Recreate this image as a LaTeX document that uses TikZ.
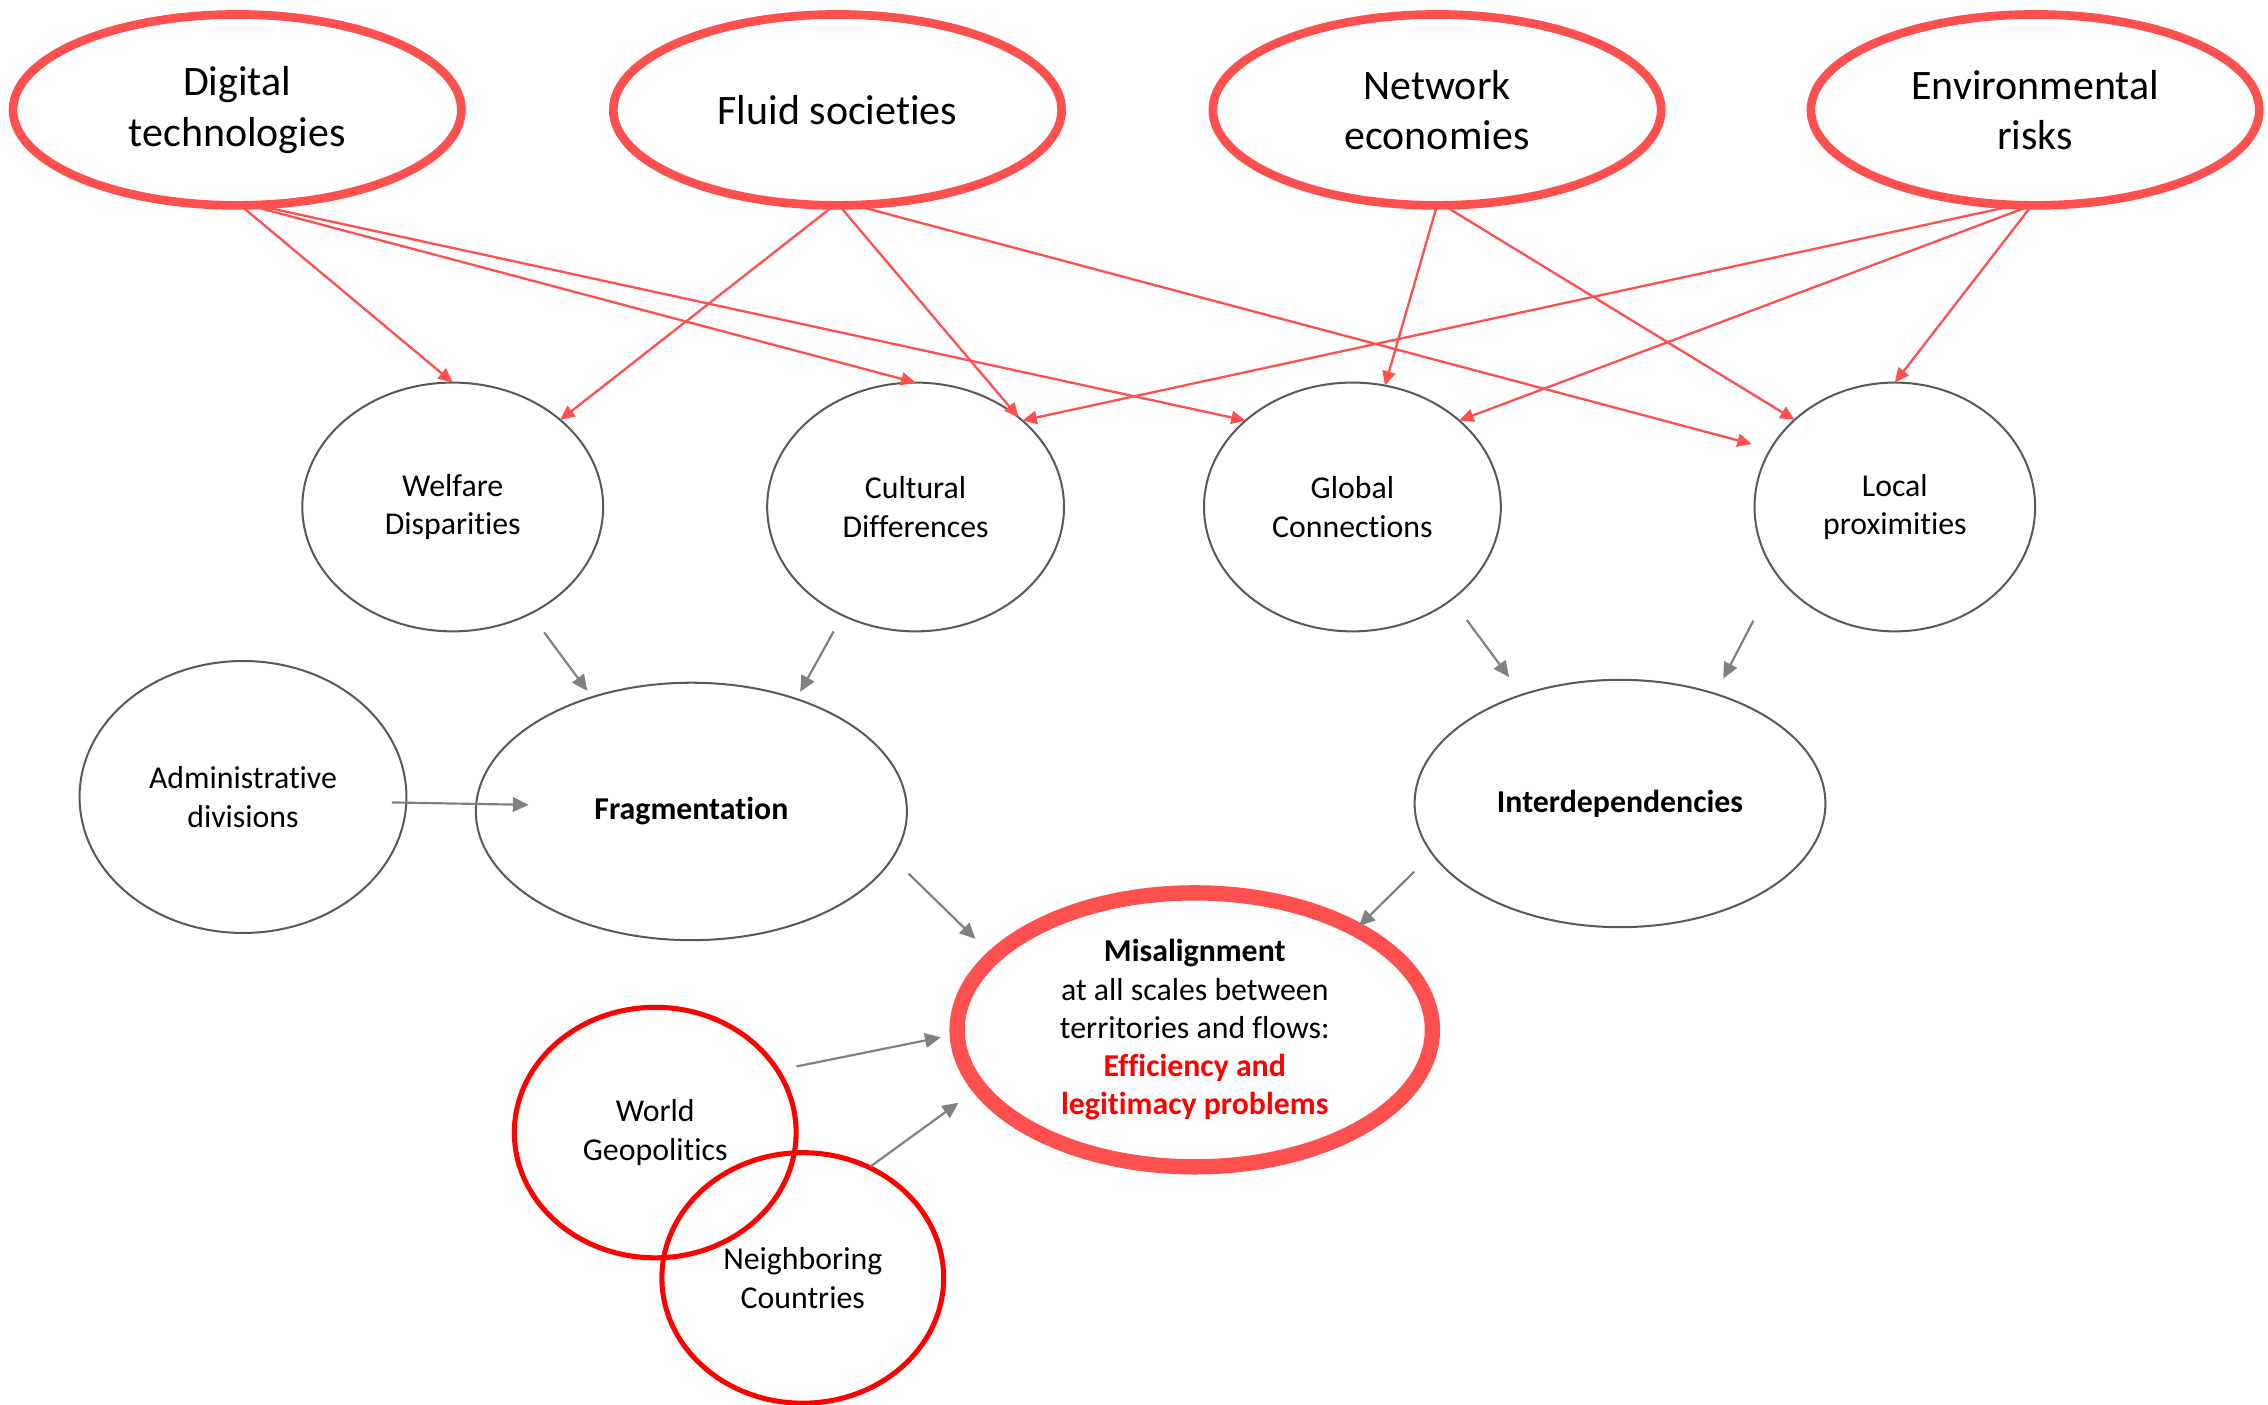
\documentclass[tikz,border=0pt]{standalone}
\usepackage{fontspec}
\setmainfont{Carlito}[Ligatures=NoCommon]
\usepackage{tikz}
\usetikzlibrary{shapes.geometric,arrows.meta}
\definecolor{salmonred}{HTML}{FF5050}
\definecolor{edgegray}{HTML}{595959}
\definecolor{arrowgray}{HTML}{808080}

\begin{document}
\begin{tikzpicture}[x=50pt, y=50pt, inner sep=0pt, outer sep=0pt, >={Triangle[length=5pt,width=4.5pt]},
  driver/.style={ellipse, draw=salmonred, line width=3pt, minimum width=155pt, minimum height=66pt, align=center, font=\fontsize{14.5}{17.5}\selectfont},
  factor/.style={ellipse, draw=edgegray, line width=0.7pt, align=center, font=\fontsize{11}{13.25}\selectfont},
  core/.style={ellipse, draw=salmonred, line width=5.3pt, minimum width=164.3pt, minimum height=94.7pt, align=center, font=\fontsize{11}{13.25}\selectfont},
  context/.style={ellipse, draw=red, line width=1.75pt, minimum width=97.4pt, minimum height=86.6pt, align=center, font=\fontsize{11}{13.25}\selectfont},
  push/.style={->, draw=salmonred, line width=0.8pt},
  lead/.style={->, draw=arrowgray, line width=0.75pt, >={Triangle[length=5.5pt,width=5pt]}}]
\useasboundingbox (0,0) rectangle (15.68,9.71);
\node (digital) at (1.64,8.95) [driver] {Digital\\technologies};
\node (fluid) at (5.79,8.95) [driver] {Fluid societies};
\node (network) at (9.935,8.95) [driver] {Network\\economies};
\node (environ) at (14.07,8.95) [driver] {Environmental\\risks};
\node (welfare) at (3.13,6.205) [factor, minimum width=104pt, minimum height=86pt] {Welfare\\Disparities};
\node (cultural) at (6.33,6.205) [factor, minimum width=102.6pt, minimum height=86pt] {Cultural\\Differences};
\node (global) at (9.35,6.205) [factor, minimum width=102.6pt, minimum height=86pt] {Global\\Connections};
\node (local) at (13.10,6.205) [factor, minimum width=97pt, minimum height=86pt] {Local\\proximities};
\node (admin) at (1.68,4.20) [factor, minimum width=113pt, minimum height=94pt] {Administrative\\divisions};
\node (frag) at (4.78,4.10) [factor, minimum width=149pt, minimum height=89pt] {\textbf{Fragmentation}};
\node (interdep) at (11.20,4.155) [factor, minimum width=142pt, minimum height=85.5pt] {\textbf{Interdependencies}};
\node (misalign) at (8.26,2.59) [core] {\textbf{Misalignment}\\at all scales between\\territories and flows:\\\textcolor{red}{\textbf{Efficiency and}}\\\textcolor{red}{\textbf{legitimacy problems}}};
\node (world) at (4.53,1.88) [context] {World\\Geopolitics};
\node (neighbor) at (5.55,0.875) [context] {Neighboring\\Countries};
\draw[push] (digital.-88) -- (welfare.north);
\draw[push] (digital.-83) -- (cultural.north);
\draw[push] (digital.-79) -- (global.141);
\draw[push] (fluid.-92) -- (welfare.39);
\draw[push] (fluid.-89) -- (cultural.41);
\draw[push, shorten >=6.75pt] (fluid.-80) -- (local.155);
\draw[push] (network.-90) -- (global.75);
\draw[push] (network.-86) -- (local.139);
\draw[push] (environ.-101) -- (cultural.39);
\draw[push] (environ.-92) -- (global.39);
\draw[push] (environ.-92) -- (local.north);
\draw[lead, shorten <=8.1pt, shorten >=2.7pt] (welfare.-54) -- (frag.131);
\draw[lead, shorten <=6.4pt, shorten >=2.8pt] (cultural.-124) -- (frag.47);
\draw[lead, shorten <=8.8pt, shorten >=7.6pt] (global.-43) -- (interdep.132);
\draw[lead, shorten <=17.85pt, shorten >=6pt] (local.-150) -- (interdep.49);
\draw[lead, shorten <=-5pt, shorten >=-18.15pt] (admin.-2) -- (frag.178);
\draw[lead, shorten <=7.8pt, shorten >=8.8pt] (frag.-13) -- (misalign.160);
\draw[lead, shorten <=8.8pt, shorten >=1.5pt] (interdep.-165) -- (misalign.32);
\draw[lead, shorten <=6.7pt, shorten >=5.75pt] (world.27) -- (misalign.181);
\draw[lead, shorten <=0.5pt, shorten >=8.9pt] (neighbor.59) -- (misalign.195);
\end{tikzpicture}
\end{document}
